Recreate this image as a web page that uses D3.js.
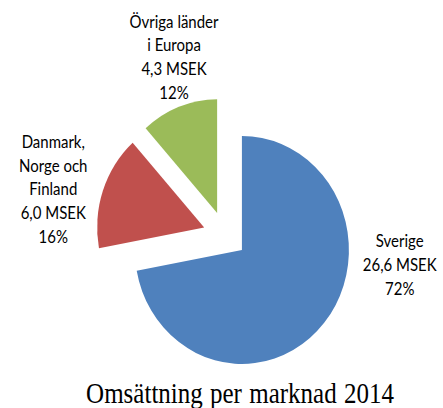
<!DOCTYPE html>
<html>
<head>
<meta charset="utf-8">
<script src="https://cdn.jsdelivr.net/npm/d3@7"></script>
<style>
  body { margin: 0; background: #fff; }
  svg { display: block; }
</style>
</head>
<body>
<script>
// data
const markets = ["Sverige", "Danmark, Norge och Finland", "Övriga länder i Europa"];
const nameLines = [["Sverige"], ["Danmark,", "Norge och", "Finland"], ["Övriga länder", "i Europa"]];
const msek = [26.6, 6.0, 4.3];
const shares = [72, 16, 12];
const colors = ["#4F81BD", "#C0504D", "#9BBB59"];
const title = "Omsättning per marknad 2014";

const width = 443, height = 408;
const cx = 225, cy = 235;        // pie centre
const radius = 107;
const squash = 1.065;            // the picture is a little taller than wide
const explode = 22;
const labelRadius = [177, 177, 174.6];
const labelTurn = [-30.6, -4.8, 4];  // best-fit nudges from the slice bisector (deg)
const lineHeight = 19.8;

const svg = d3.select("body").append("svg")
    .attr("width", width)
    .attr("height", height);

const pie = d3.pie().sort(null).value(d => d)(msek);
const arc = d3.arc().innerRadius(0).outerRadius(radius);
const mid = d => (d.startAngle + d.endAngle) / 2;

const g = svg.append("g")
    .attr("transform", `translate(${cx},${cy}) scale(1,${squash})`);

g.selectAll("path")
  .data(pie)
  .join("path")
    .attr("fill", (d, i) => colors[i])
    .attr("transform", d => `translate(${explode * Math.sin(mid(d))},${-explode * Math.cos(mid(d))})`)
    .attr("d", arc);

const fmt = v => d3.format(".1f")(v).replace(".", ",");

const labels = svg.append("g")
    .attr("font-family", "Lato, 'Open Sans', sans-serif")
    .attr("font-size", 15)
    .attr("fill", "#000")
    .attr("text-anchor", "middle")
  .selectAll("text")
  .data(pie)
  .join("text")
    .attr("transform", (d, i) => {
      const a = mid(d) + labelTurn[i] * Math.PI / 180;
      const x = cx + labelRadius[i] * Math.sin(a);
      const y = cy - labelRadius[i] * Math.cos(a) * squash;
      return `translate(${x},${y}) scale(1,1.2)`;
    });

labels.each(function(d, i) {
  const lines = nameLines[i].concat([`${fmt(msek[i])} MSEK`, `${shares[i]}%`]);
  const t = d3.select(this);
  const y0 = -(lines.length - 1) / 2 * lineHeight + 5;
  lines.forEach((s, k) => {
    t.append("tspan").attr("x", 0).attr("y", y0 + k * lineHeight).text(s);
  });
});

svg.append("text")
    .attr("transform", "translate(240,403) scale(1,1.15)")
    .attr("text-anchor", "middle")
    .attr("font-family", "'Liberation Serif', 'Times New Roman', serif")
    .attr("font-size", 25)
    .attr("word-spacing", 1)
    .attr("fill", "#000")
    .text(title);
</script>
</body>
</html>
